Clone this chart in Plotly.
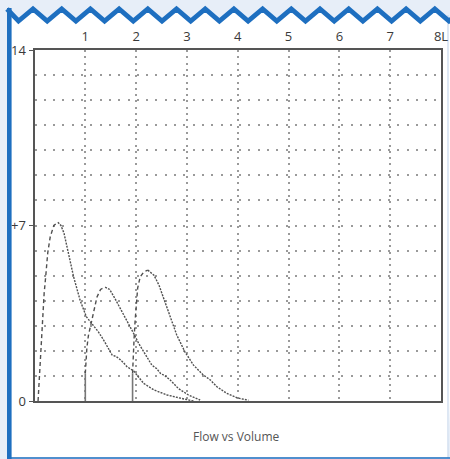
import numpy as np
import plotly.graph_objects as go

W, H = 450, 459

# ---------------- data ----------------
x_tick_vals = [1, 2, 3, 4, 5, 6, 7, 8]
x_tick_text = ["1", "2", "3", "4", "5", "6", "7", "8L"]
y_tick_vals = [0, 7, 14]
y_tick_text = ["0", "+7", "14"]

# Trial 1 (volume L, flow L/s)
vol1 = [0.07, 0.09, 0.11, 0.13, 0.16, 0.19, 0.22, 0.26, 0.31, 0.38, 0.46,
        0.52, 0.58, 0.67, 0.77, 0.90, 1.02, 1.15, 1.26, 1.36, 1.45, 1.53,
        1.60, 1.66, 1.74, 1.82, 1.95, 2.05, 2.15, 2.35, 2.61, 2.94, 3.13]
flow1 = [0.0, 0.7, 1.5, 2.4, 3.4, 4.3, 4.95, 5.9, 6.55, 7.0, 7.13,
         7.0, 6.7, 5.9, 4.95, 4.0, 3.36, 3.03, 2.75, 2.43, 2.1, 1.83,
         1.78, 1.7, 1.55, 1.37, 1.2, 0.95, 0.7, 0.44, 0.24, 0.08, 0.0]

# Trial 2
vol2 = [1.00, 1.01, 1.03, 1.06, 1.10, 1.13, 1.18, 1.23, 1.30, 1.39,
        1.48, 1.58, 1.69, 1.82, 1.95, 2.05, 2.15, 2.31, 2.40, 2.48,
        2.57, 2.67, 2.83, 3.03, 3.26]
flow2 = [1.1, 1.6, 2.1, 2.6, 2.95, 3.2, 3.7, 4.15, 4.45, 4.54,
         4.45, 4.1, 3.7, 3.2, 2.7, 2.3, 1.96, 1.43, 1.3, 1.1,
         1.0, 0.84, 0.5, 0.24, 0.04]

# Trial 3
vol3 = [1.93, 1.94, 1.96, 1.98, 2.00, 2.03, 2.08, 2.15, 2.23,
        2.35, 2.45, 2.54, 2.67, 2.80, 2.96, 3.13, 3.32, 3.46, 3.59,
        3.78, 3.98, 4.21]
flow3 = [1.1, 1.8, 2.5, 3.2, 3.8, 4.5, 4.95, 5.15, 5.22,
         5.02, 4.62, 4.1, 3.3, 2.63, 1.96, 1.43, 1.04, 0.84, 0.57,
         0.31, 0.13, 0.03]

# solid start markers (volume at start, height of solid segment)
start_vols = [1.00, 1.93]
start_heights = [1.1, 1.1]

curves = [(vol1, flow1), (vol2, flow2), (vol3, flow3)]

# ---------------- helpers ----------------
def px(x):
    return x / W

def py(y):
    return 1 - y / H

PLOT_L, PLOT_R, PLOT_T, PLOT_B = 34.5, 441, 50, 401
CURVE_COLOR = "#505050"
BLUE = "#1e6fc0"

fig = go.Figure()

for v, f in curves:
    k = int(np.argmax(f))
    fig.add_trace(go.Scatter(x=v[:k + 1], y=f[:k + 1], mode="lines",
                             line=dict(color=CURVE_COLOR, width=1.4, dash="4px,3px"),
                             hoverinfo="skip", showlegend=False))
    fig.add_trace(go.Scatter(x=v[k:], y=f[k:], mode="lines",
                             line=dict(color=CURVE_COLOR, width=1.4, dash="2px,1.2px"),
                             hoverinfo="skip", showlegend=False))

for sv, sh in zip(start_vols, start_heights):
    fig.add_trace(go.Scatter(x=[sv, sv], y=[0, sh], mode="lines",
                             line=dict(color="#777777", width=1.6),
                             hoverinfo="skip", showlegend=False))

# ---------------- decorations ----------------
P = 28.7
pts = [(7, 9)]
k = 0
while True:
    vx = 18.5 + P * k
    pxk = 33 + P * k
    pts.append((vx, 21))
    if vx > W:
        break
    pts.append((pxk, 9))
    if pxk > W:
        break
    k += 1

zig = "M " + " L ".join(f"{px(a):.5f},{py(b):.5f}" for a, b in pts)
white = zig + f" L {px(448):.5f},{py(457):.5f} L {px(9):.5f},{py(457):.5f} Z"

shapes = [
    dict(type="path", xref="paper", yref="paper", path=white,
         fillcolor="white", line=dict(width=0), layer="below"),
    dict(type="line", xref="paper", yref="paper", x0=px(448), x1=px(448),
         y0=py(15), y1=py(458), line=dict(color="#c8d8ec", width=1.2), layer="below"),
    dict(type="path", xref="paper", yref="paper", path=zig,
         line=dict(color=BLUE, width=4.8), layer="above"),
    dict(type="line", xref="paper", yref="paper", x0=px(9.3), x1=px(9.3),
         y0=py(8), y1=py(459), line=dict(color=BLUE, width=4.6), layer="above"),
    dict(type="line", xref="paper", yref="paper", x0=px(8), x1=px(450),
         y0=py(458), y1=py(458), line=dict(color=BLUE, width=1.5), layer="above"),
]

fig.update_layout(
    width=W, height=H,
    margin=dict(l=0, r=0, t=0, b=0, pad=0, autoexpand=False),
    paper_bgcolor="#e7eef8",
    plot_bgcolor="white",
    shapes=shapes,
    showlegend=False,
    font=dict(family="Open Sans, Lato, sans-serif", color="#3a3a3a", size=13),
    annotations=[dict(text="Flow vs Volume", xref="paper", yref="paper",
                      x=px(237), y=py(436), xanchor="center", yanchor="middle",
                      showarrow=False,
                      font=dict(size=12, color="#555555"))],
)

fig.update_xaxes(
    domain=[px(PLOT_L), px(PLOT_R)], range=[0, 8], side="top", automargin=False,
    tickvals=x_tick_vals, ticktext=x_tick_text, ticks="", ticklabelstandoff=2,
    tickfont=dict(size=13),
    showline=True, mirror=True, linecolor="#555555", linewidth=2,
    showgrid=True, gridcolor="#9a9a9a", gridwidth=2, griddash="2px,4.3px",
    zeroline=False, fixedrange=True,
)
fig.update_yaxes(
    domain=[py(PLOT_B), py(PLOT_T)], range=[0, 14], automargin=False,
    tickvals=y_tick_vals, ticktext=y_tick_text, ticks="outside",
    ticklen=4, tickcolor="#555555", tickwidth=1.2, tickfont=dict(size=13),
    showline=True, mirror=True, linecolor="#555555", linewidth=2,
    showgrid=True, gridcolor="#9a9a9a", gridwidth=2, griddash="2px,7.3px",
    minor=dict(tickvals=list(range(1, 14)), showgrid=True, gridcolor="#9a9a9a",
               gridwidth=2, griddash="2px,7.3px", ticks=""),
    zeroline=False, fixedrange=True,
)

fig.write_html(
    "out.html",
    config=dict(displayModeBar=False),
    post_script="document.body.style.margin='0';document.body.style.overflow='hidden';"
                "document.body.style.background='#e7eef8';",
)
